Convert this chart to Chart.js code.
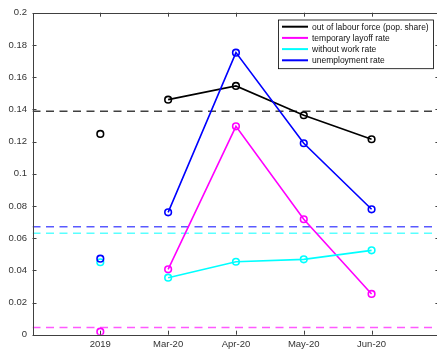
<!DOCTYPE html>
<html>
<head>
<meta charset="utf-8">
<script src="https://cdn.jsdelivr.net/npm/chart.js@4"></script>
<style>
  html, body { margin: 0; padding: 0; background: #fff; overflow: hidden; }
  #wrap { width: 445px; height: 352px; }
</style>
</head>
<body>
<div id="wrap"><canvas id="chart" width="445" height="352"></canvas></div>
<script>
// categories on the x axis
const categories = ['2019', 'Mar-20', 'Apr-20', 'May-20', 'Jun-20'];

// series values (2019 value first, then Mar..Jun 2020)
const outLabour    = [0.1247, 0.1460, 0.1545, 0.1363, 0.1214];
const tempLayoff   = [0.0019, 0.0406, 0.1294, 0.0717, 0.0253];
const withoutWork  = [0.0450, 0.0354, 0.0453, 0.0468, 0.0524];
const unemployment = [0.0472, 0.0760, 0.1752, 0.1189, 0.0779];

// dashed reference levels (same order as the series)
const refLevels = [0.1388, 0.0044, 0.0630, 0.0671];

const seriesNames  = ['out of labour force (pop. share)', 'temporary layoff rate', 'without work rate', 'unemployment rate'];
const seriesValues = [outLabour, tempLayoff, withoutWork, unemployment];
const seriesColors = ['#000000', '#ff00ff', '#00ffff', '#0000ff'];
const refColors    = ['rgba(0,0,0,0.75)', 'rgba(255,0,255,0.65)', 'rgba(0,255,255,0.65)', 'rgba(0,0,255,0.65)'];

const yMin = 0, yMax = 0.2, yStep = 0.02;
const xMin = 0, xMax = categories.length + 1;

const FONT = '"Liberation Sans", Arial, Helvetica, sans-serif';
const AXIS_COLOR = '#404040';

var datasets = [];

// dashed reference lines (drawn underneath)
refLevels.forEach((lvl, i) => {
    datasets.push({
        label: 'ref' + i,
        data: [{x: xMin, y: lvl}, {x: xMax, y: lvl}],
        borderColor: refColors[i],
        borderWidth: 1.5,
        borderDash: [8, 5.5],
        pointRadius: 0,
        fill: false,
        order: 10
    });
});

// 2020 monthly lines
seriesValues.forEach((vals, i) => {
    datasets.push({
        label: seriesNames[i],
        data: vals.map((v, k) => ({x: k + 1, y: v})).slice(1),
        borderColor: seriesColors[i],
        borderWidth: 1.6,
        pointRadius: 3.3,
        pointBorderWidth: 1.6,
        pointBackgroundColor: 'rgba(0,0,0,0)',
        pointBorderColor: seriesColors[i],
        fill: false,
        order: 4 - i
    });
});

// isolated 2019 points
seriesValues.forEach((vals, i) => {
    datasets.push({
        label: 'pt' + i,
        data: [{x: 1, y: vals[0]}],
        showLine: false,
        pointRadius: 3.3,
        pointBorderWidth: 1.6,
        pointBackgroundColor: 'rgba(0,0,0,0)',
        pointBorderColor: seriesColors[i],
        borderColor: seriesColors[i],
        order: 4 - i
    });
});

// box + inward ticks, MATLAB style
const framePlugin = {
    id: 'frame',
    afterDraw(chart) {
        const ctx = chart.ctx;
        const a = chart.chartArea;
        const xs = chart.scales.x, ys = chart.scales.y;
        const tl = 4;
        ctx.save();
        ctx.strokeStyle = AXIS_COLOR;
        ctx.lineWidth = 1;
        ctx.beginPath();
        ctx.rect(Math.round(a.left) + 0.5, Math.round(a.top) + 0.5, Math.round(a.right - a.left), Math.round(a.bottom - a.top));
        ctx.stroke();
        ctx.beginPath();
        xs.ticks.forEach((t, i) => {
            const px = Math.round(xs.getPixelForTick(i)) + 0.5;
            ctx.moveTo(px, a.bottom); ctx.lineTo(px, a.bottom - tl);
            ctx.moveTo(px, a.top); ctx.lineTo(px, a.top + tl);
        });
        ys.ticks.forEach((t, i) => {
            const py = Math.round(ys.getPixelForTick(i)) + 0.5;
            ctx.moveTo(a.left, py); ctx.lineTo(a.left + tl, py);
            ctx.moveTo(a.right, py); ctx.lineTo(a.right - tl, py);
        });
        ctx.stroke();
        ctx.restore();
    }
};

// legend box inside the axes, top right
const legendPlugin = {
    id: 'boxLegend',
    afterDraw(chart) {
        const ctx = chart.ctx;
        const left = 278, top = 19.5, w = 155, rowH = 11.2;
        const h = rowH * seriesNames.length + 3.9;
        ctx.save();
        ctx.fillStyle = '#fff';
        ctx.fillRect(left, top, w, h);
        ctx.strokeStyle = '#000';
        ctx.lineWidth = 0.8;
        ctx.strokeRect(left + 0.5, top + 0.5, w, h);
        ctx.font = '8.5px ' + FONT;
        ctx.textBaseline = 'middle';
        ctx.textAlign = 'left';
        seriesNames.forEach((name, i) => {
            const y = top + 7.2 + i * rowH;
            ctx.strokeStyle = seriesColors[i];
            ctx.lineWidth = 2;
            ctx.beginPath();
            ctx.moveTo(left + 4, y);
            ctx.lineTo(left + 30, y);
            ctx.stroke();
            ctx.fillStyle = '#111';
            ctx.fillText(name, left + 34, y + 0.5);
        });
        ctx.restore();
    }
};

new Chart(document.getElementById('chart').getContext('2d'), {
    type: 'line',
    data: { datasets: datasets },
    options: {
        responsive: false,
        animation: false,
        layout: { padding: { top: 12.7, right: 3.3, left: 0, bottom: 0 } },
        plugins: {
            legend: { display: false },
            tooltip: { enabled: false }
        },
        scales: {
            x: {
                type: 'linear',
                min: xMin,
                max: xMax,
                grid: { display: false, drawTicks: false },
                border: { display: false },
                afterBuildTicks: s => { s.ticks = categories.map((c, i) => ({ value: i + 1 })); },
                afterFit: s => { s.height = 352 - 334.7; },
                ticks: {
                    padding: 4,
                    maxRotation: 0,
                    autoSkip: false,
                    color: '#333',
                    font: { family: FONT, size: 9.5 },
                    callback: v => categories[v - 1] ?? ''
                }
            },
            y: {
                min: yMin,
                max: yMax,
                grid: { display: false, drawTicks: false },
                border: { display: false },
                afterFit: s => { s.width = 32.5; },
                ticks: {
                    stepSize: yStep,
                    padding: 5.5,
                    color: '#333',
                    font: { family: FONT, size: 9.5 },
                    callback: v => String(+v.toFixed(2))
                }
            }
        }
    },
    plugins: [framePlugin, legendPlugin]
});
</script>
</body>
</html>
